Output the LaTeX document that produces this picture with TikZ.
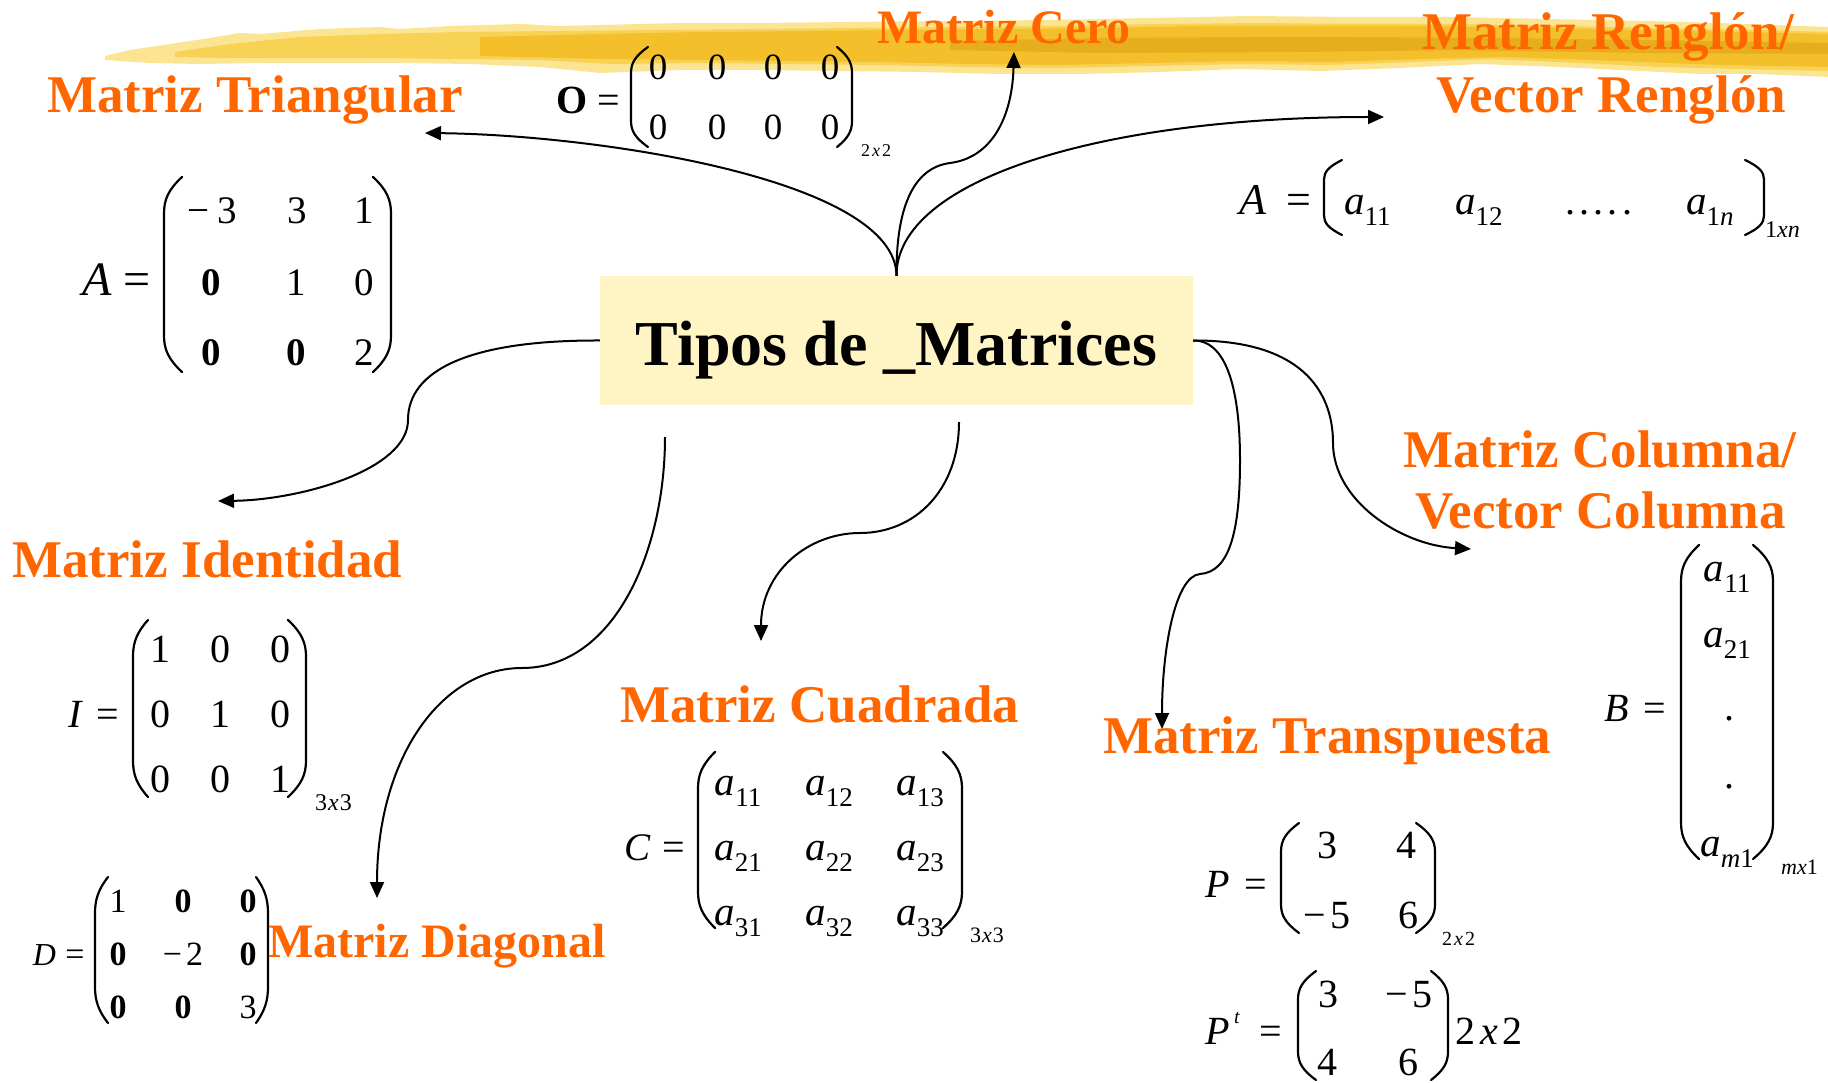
\documentclass[tikz,border=0pt]{standalone}
\usepackage{fontspec}
\setmainfont{Liberation Serif}
\usetikzlibrary{arrows.meta}
\definecolor{orng}{HTML}{FF6600}
\definecolor{boxy}{HTML}{FFF4C4}
\definecolor{brA}{HTML}{FCE592}
\definecolor{brB}{HTML}{F8D255}
\definecolor{brC}{HTML}{F3BF2A}
\definecolor{brD}{HTML}{E6AD1C}
\newcommand{\fsz}[1]{\fontsize{#1}{#1}\selectfont}
\newcommand{\subs}[1]{\raisebox{-11pt}{\fsz{27}\upshape #1}}
\newcommand{\mparen}[4]{%
  \pgfmathsetmacro\hk{min(0.2*(#4-#3),28)}%
  \draw[parst] (#2,#3) .. controls ({#1+0.25*(#2-#1)},{#3+0.45*\hk}) and (#1,{#3+0.8*\hk}) .. (#1,{#3+1.3*\hk})
    -- (#1,{#4-1.3*\hk}) .. controls (#1,{#4-0.8*\hk}) and ({#1+0.25*(#2-#1)},{#4-0.45*\hk}) .. (#2,#4);}
\tikzset{
  lab/.style={anchor=base west, inner sep=0, text=orng, font=\fsz{53}\bfseries},
  ent/.style={anchor=base, inner sep=0, font=\fsz{39}},
  subw/.style={anchor=base west, inner sep=0},
  parst/.style={line width=2.2pt, line cap=round, black},
  conn/.style={draw=black, line width=2pt, -{Triangle[length=16pt,width=14pt]}}
}
\begin{document}
\begin{tikzpicture}[x=1pt,y=-1pt]
\useasboundingbox (0,0) rectangle (1828,1083);
\fill[white] (0,0) rectangle (1828,1083);
% brush stroke
\fill[brA] (105,56) -- (130,50) -- (170,44) -- (210,38) -- (240,33) -- (260,34) -- (320,29) -- (380,27) -- (400,29) -- (450,26) -- (520,24) -- (560,26) -- (600,25) -- (680,23) -- (760,23) -- (850,22) -- (950,21) -- (1050,20) -- (1150,18) -- (1250,16) -- (1350,17) -- (1450,17) -- (1550,19) -- (1650,21) -- (1750,24) -- (1828,27) -- (1828,77) -- (1760,74) -- (1700,74) -- (1640,71) -- (1560,67) -- (1480,64) -- (1400,68) -- (1320,71) -- (1240,69) -- (1160,72) -- (1080,74) -- (1000,74) -- (920,72) -- (840,71) -- (760,70) -- (680,70) -- (600,73) -- (540,67) -- (470,64) -- (400,63) -- (330,63) -- (260,63) -- (200,64) -- (150,63) -- (105,60) -- cycle;
\fill[brB] (175,52) -- (230,44) -- (300,37) -- (380,34) -- (460,32) -- (560,31) -- (660,30) -- (760,29) -- (860,28) -- (960,27) -- (1060,26) -- (1160,24) -- (1260,23) -- (1360,24) -- (1460,24) -- (1560,26) -- (1660,28) -- (1760,30) -- (1828,32) -- (1828,71) -- (1740,69) -- (1660,67) -- (1580,63) -- (1490,59) -- (1410,62) -- (1330,65) -- (1240,64) -- (1150,66) -- (1060,68) -- (970,67) -- (880,65) -- (790,64) -- (700,63) -- (610,64) -- (540,60) -- (460,59) -- (380,58) -- (300,58) -- (230,58) -- (175,57) -- cycle;
\fill[brC] (480,37) -- (600,34) -- (700,32) -- (800,31) -- (900,30) -- (1000,29) -- (1100,28) -- (1200,26) -- (1300,26) -- (1400,26) -- (1500,27) -- (1600,29) -- (1700,31) -- (1828,34) -- (1828,67) -- (1720,65) -- (1620,61) -- (1500,57) -- (1420,59) -- (1330,62) -- (1240,61) -- (1150,63) -- (1060,65) -- (970,64) -- (880,62) -- (790,61) -- (700,60) -- (600,59) -- (480,56) -- cycle;
\fill[brD] (950,41) -- (1100,38) -- (1300,37) -- (1500,38) -- (1700,41) -- (1828,43) -- (1828,54) -- (1650,53) -- (1450,50) -- (1300,52) -- (1100,53) -- (950,50) -- cycle;
% title
\node[fill=boxy, minimum width=593pt, minimum height=129pt, inner sep=0] (title) at (896.5,340.5) {};
\node[anchor=base, inner sep=0, font=\fsz{64}\bfseries] (titletxt) at (896.5,365) {Tipos de \_Matrices};
% labels
\node[lab] (lTri) at (47,113) {Matriz Triangular};
\node[lab, font=\fsz{48}\bfseries] (lCero) at (877,44) {Matriz Cero};
\node[lab] (lRen1) at (1422,50) {Matriz Renglón/};
\node[lab] (lRen2) at (1436,113) {Vector Renglón};
\node[lab] (lIden) at (12,577) {Matriz Identidad};
\node[lab, font=\fsz{48}\bfseries] (lDiag) at (268,957) {Matriz Diagonal};
\node[lab] (lCuad) at (620,722) {Matriz Cuadrada};
\node[lab] (lTrans) at (1103,753) {Matriz Transpuesta};
\node[lab] (lCol1) at (1403,467) {Matriz Columna/};
\node[lab] (lCol2) at (1415,528) {Vector Columna};
% connector ends
\coordinate (tTri) at (425,133);
\coordinate (tCero) at (1014,52);
\coordinate (tRen) at (1384,117);
\coordinate (tIden) at (218,501);
\coordinate (sDiag) at (665,437);
\coordinate (tDiag) at (377,898);
\coordinate (sCuad) at (959,422);
\coordinate (tCuad) at (761,641);
\coordinate (tTrans) at (1162,729);
\coordinate (tCol) at (1471,549);
\draw[conn] (title.north) .. controls (896,180) and (600,135) .. (tTri);
\draw[conn] (title.north) .. controls (896,210) and (912,168) .. (950,163) .. controls (990,158) and (1012,120) .. (tCero);
\draw[conn] (title.north) .. controls (896,180) and (1100,117) .. (tRen);
\draw[conn] (title.west) .. controls (470,340) and (408,370) .. (408,420) .. controls (408,470) and (300,500) .. (tIden);
\draw[conn] (sDiag) .. controls (665,550) and (615,668) .. (522,668) .. controls (440,668) and (377,760) .. (tDiag);
\draw[conn] (sCuad) .. controls (959,490) and (915,533) .. (860,533) .. controls (808,533) and (761,572) .. (tCuad);
\draw[conn] (title.east) .. controls (1230,340) and (1240,400) .. (1240,460) .. controls (1240,530) and (1230,572) .. (1200,574) .. controls (1175,576) and (1162,650) .. (tTrans);
\draw[conn] (title.east) .. controls (1300,340) and (1333,390) .. (1333,443) .. controls (1333,500) and (1400,545) .. (tCol);
% triangular matrix
\node[ent, font=\fsz{48}\itshape] (triA) at (97.5,295) {A};
\node[ent, font=\fsz{48}] (triEq) at (137,295) {=};
\mparen{164}{182}{177}{372}
\mparen{391}{373}{177}{372}
\node[ent] (t11) at (212,224) {−\kern8pt3};
\node[ent] (t12) at (297,224) {3};
\node[ent] (t13) at (364,224) {1};
\node[ent] (t21) at (211,295) {\bfseries 0};
\node[ent] (t22) at (296,295) {1};
\node[ent] (t23) at (364,295) {0};
\node[ent] (t31) at (211,365) {\bfseries 0};
\node[ent] (t32) at (296,365) {\bfseries 0};
\node[ent] (t33) at (364,365) {2};
% zero matrix
\node[ent, font=\fsz{40}\bfseries] (zO) at (572,114) {O};
\node[ent, font=\fsz{40}] (zEq) at (608.5,114) {=};
\mparen{631}{648}{47}{147}
\mparen{852}{837}{47}{147}
\foreach \cx [count=\i] in {658,717,773,830} {
  \node[ent, font=\fsz{37}] (zr1\i) at (\cx,80) {0};
  \node[ent, font=\fsz{37}] (zr2\i) at (\cx,140) {0};
}
\node[subw, font=\fsz{18}] (zSub) at (861,157) {2\kern2pt\textit{x}\kern2pt2};
% row vector
\node[ent, font=\fsz{44}\itshape] (rA) at (1252.5,215) {A};
\node[ent, font=\fsz{44}] (rEq) at (1298.5,215) {=};
\mparen{1324}{1342}{160}{235}
\mparen{1764}{1745}{160}{235}
\node[subw, font=\fsz{41}\itshape] (r1) at (1344,215) {a\subs{11}};
\node[subw, font=\fsz{41}\itshape] (r2) at (1455,215) {a\subs{12}};
\node[subw, font=\fsz{40}] (r3) at (1565,215) {\makebox[67pt]{.\hfill.\hfill.\hfill.\hfill.}};
\node[subw, font=\fsz{41}\itshape] (r4) at (1686,215) {a\subs{1\textit{n}}};
\node[subw, font=\fsz{24}] (rSub) at (1765,238) {1\textit{xn}};
% identity matrix
\node[ent, font=\fsz{40}\itshape] (iI) at (75,727) {I};
\node[ent, font=\fsz{40}] (iEq) at (108,727) {=};
\mparen{133}{148}{620}{797}
\mparen{306}{288}{620}{797}
\node[ent, font=\fsz{40}] (i11) at (160,662) {1};
\node[ent, font=\fsz{40}] (i12) at (220,662) {0};
\node[ent, font=\fsz{40}] (i13) at (280,662) {0};
\node[ent, font=\fsz{40}] (i21) at (160,727) {0};
\node[ent, font=\fsz{40}] (i22) at (220,727) {1};
\node[ent, font=\fsz{40}] (i23) at (280,727) {0};
\node[ent, font=\fsz{40}] (i31) at (160,792) {0};
\node[ent, font=\fsz{40}] (i32) at (220,792) {0};
\node[ent, font=\fsz{40}] (i33) at (280,792) {1};
\node[subw, font=\fsz{24}] (iSub) at (315,810) {3\kern1pt\textit{x}\kern1pt3};
% diagonal matrix
\node[ent, font=\fsz{32}\itshape] (dD) at (44.5,965) {D};
\node[ent, font=\fsz{34}] (dEq) at (75,965) {=};
\mparen{95}{108}{877}{1023}
\mparen{268}{256}{877}{1023}
\node[ent, font=\fsz{34}] (d11) at (118,912) {1};
\node[ent, font=\fsz{34}\bfseries] (d12) at (183,912) {0};
\node[ent, font=\fsz{34}\bfseries] (d13) at (248,912) {0};
\node[ent, font=\fsz{34}\bfseries] (d21) at (118,965) {0};
\node[ent, font=\fsz{34}] (d22) at (183,965) {−\kern4pt2};
\node[ent, font=\fsz{34}\bfseries] (d23) at (248,965) {0};
\node[ent, font=\fsz{34}\bfseries] (d31) at (118,1018) {0};
\node[ent, font=\fsz{34}\bfseries] (d32) at (183,1018) {0};
\node[ent, font=\fsz{34}] (d33) at (248,1018) {3};
% square matrix
\node[ent, font=\fsz{39}\itshape] (cC) at (637.5,860) {C};
\node[ent, font=\fsz{40}] (cEq) at (673.5,860) {=};
\mparen{698}{715}{752}{928}
\mparen{962}{943}{752}{928}
\foreach \cx [count=\j] in {738,829,920} {
  \foreach \cy [count=\i] in {795,860,925} {
    \node[ent, font=\fsz{41}\itshape] (c\i\j) at (\cx,\cy) {a\subs{\i\j}};
  }
}
\node[subw, font=\fsz{22}] (cSub) at (970,942) {3\kern1pt\textit{x}\kern1pt3};
% column vector
\node[ent, font=\fsz{40}\itshape] (bB) at (1617,721) {B};
\node[ent, font=\fsz{40}] (bEq) at (1655,721) {=};
\mparen{1681}{1699}{545}{859}
\mparen{1773}{1753}{545}{859}
\node[ent, font=\fsz{41}\itshape] (b1) at (1727,581) {a\subs{11}};
\node[ent, font=\fsz{41}\itshape] (b2) at (1727,647) {a\subs{21}};
\node[ent, font=\fsz{40}] (b3) at (1729,720) {.};
\node[ent, font=\fsz{40}] (b4) at (1729,788) {.};
\node[ent, font=\fsz{41}\itshape] (b5) at (1727,856) {a\subs{\textit{m}1}};
\node[subw, font=\fsz{22}] (bSub) at (1781,874) {\textit{mx}1};
% transpose
\node[ent, font=\fsz{40}\itshape] (pP) at (1218,897) {P};
\node[ent, font=\fsz{40}] (pEq) at (1256,897) {=};
\mparen{1281}{1299}{823}{933}
\mparen{1435}{1416}{823}{933}
\node[ent, font=\fsz{40}] (p11) at (1327,858) {3};
\node[ent, font=\fsz{40}] (p12) at (1406,858) {4};
\node[ent, font=\fsz{40}] (p21) at (1327,928) {−\kern4pt5};
\node[ent, font=\fsz{40}] (p22) at (1408,928) {6};
\node[subw, font=\fsz{20}] (pSub) at (1442,945) {2\kern2pt\textit{x}\kern2pt2};
\node[ent, font=\fsz{40}\itshape] (qP) at (1218,1044) {P};
\node[ent, font=\fsz{20}\itshape] (qt) at (1237,1023) {t};
\node[ent, font=\fsz{40}] (qEq) at (1271,1044) {=};
\mparen{1298}{1316}{971}{1080}
\mparen{1448}{1431}{971}{1080}
\node[ent, font=\fsz{40}] (q11) at (1328,1007) {3};
\node[ent, font=\fsz{40}] (q12) at (1409,1007) {−\kern4pt5};
\node[ent, font=\fsz{40}] (q21) at (1327,1075) {4};
\node[ent, font=\fsz{40}] (q22) at (1408,1075) {6};
\node[subw, font=\fsz{40}] (qSub) at (1455,1044) {2\kern5pt\textit{x}\kern5pt2};
\end{tikzpicture}
\end{document}
